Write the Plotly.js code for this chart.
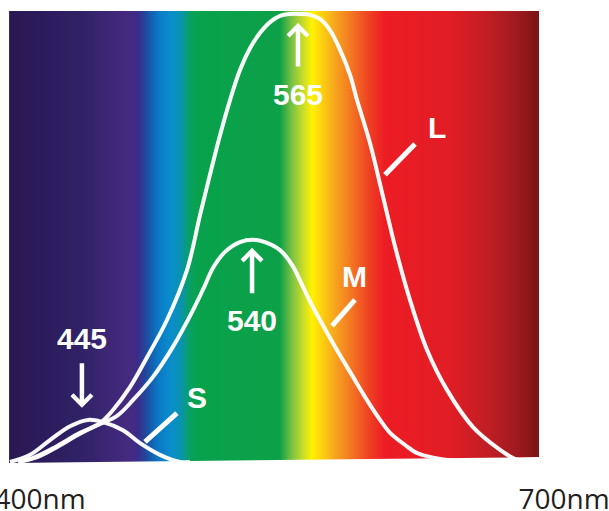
<!DOCTYPE html>
<html>
<head>
<meta charset="utf-8">
<script src="https://cdn.plot.ly/plotly-3.0.1.min.js"></script>
<style>
  html, body { margin: 0; padding: 0; background: #ffffff; }
  #chart { width: 609px; height: 511px; }
</style>
</head>
<body>
<div id="chart"></div>
<script>
// Tick labels
const tickValues = [400, 700];
const tickLabels = ["400nm", "700nm"];

// Spectrum colour stops (wavelength, colour)
const spectrumNm = [382.3, 400, 422.9, 443, 451.5, 456, 460.7, 467.6, 474.4, 480.2, 485.9, 490.5, 537.4, 544.3, 550.6, 555.7, 561.5, 568.9, 577.5, 587.8, 597.5, 634.7, 657.6, 674.8, 685.7];
const spectrumColors = ["#2a1850", "#2c1b5c", "#302266", "#3f2878", "#462a80", "#3b2c88", "#1f4a9e", "#0a78c4", "#0a8ccc", "#0a92b4", "#07a060", "#08a24c", "#0da048", "#7cc242", "#c8dc2a", "#fff200", "#fdd010", "#f7a51f", "#f47a22", "#ef4423", "#ed1c24", "#e11d25", "#bf1e24", "#9a1a1e", "#7a1414"];
const spectrumTop = 1.007;
const spectrumBottomLeft = -0.002;
const spectrumBottomRight = 0.011;

// S cone (peak labelled 445)
const sNm = [382.8, 394.3, 405.7, 417.2, 427.5, 436.1, 447.5, 457.3, 468.7, 480.2, 485.9];
const sVal = [0, 0.016, 0.049, 0.080, 0.094, 0.089, 0.071, 0.042, 0.016, 0.0, 0.0];

// M cone (peak labelled 540)
const mNm = [387.4, 397.1, 408.6, 422.9, 434.4, 444.1, 453.2, 464.7, 476.1, 487.6, 494.5, 499.0, 505.9, 514.5, 521.9, 528.8, 537.4, 544.3, 550.6, 555.7, 560.3, 570.0, 578.6, 587.2, 594.7, 600.4, 609.0, 615.8, 626.1, 634.7, 644.4];
const mVal = [0, 0.009, 0.031, 0.063, 0.085, 0.103, 0.138, 0.190, 0.257, 0.339, 0.395, 0.433, 0.469, 0.491, 0.496, 0.491, 0.473, 0.440, 0.391, 0.350, 0.317, 0.250, 0.194, 0.138, 0.094, 0.065, 0.038, 0.020, 0.009, 0.004, 0];

// L cone (peak labelled 565)
const lNm = [387.4, 397.1, 408.6, 422.9, 434.4, 441.8, 451.5, 461.3, 472.7, 484.2, 491.6, 497.3, 503.1, 508.8, 514.5, 520.3, 526.0, 531.7, 537.4, 543.1, 548.9, 554.6, 560.3, 566.0, 571.8, 577.5, 581.5, 588.9, 596.4, 603.8, 611.8, 621.6, 633.0, 647.9, 663.4, 670.8, 677.7];
const lVal = [0, 0.011, 0.033, 0.065, 0.087, 0.116, 0.167, 0.234, 0.317, 0.429, 0.551, 0.641, 0.730, 0.808, 0.875, 0.924, 0.958, 0.982, 0.996, 1.0, 1.0, 0.998, 0.989, 0.964, 0.920, 0.864, 0.808, 0.712, 0.592, 0.473, 0.362, 0.250, 0.161, 0.078, 0.027, 0.009, 0.0];

// Peak labels
const peakLabels = ["445", "540", "565"];
const coneLabels = ["S", "M", "L"];

const x0 = spectrumNm[0], x1 = spectrumNm[spectrumNm.length - 1];
const colorscale = spectrumNm.map((v, i) => [(v - x0) / (x1 - x0), spectrumColors[i]]);

const spectrum = {
  x: [x0, x1, x1, x0, x0],
  y: [spectrumTop, spectrumTop, spectrumBottomRight, spectrumBottomLeft, spectrumTop],
  mode: "lines",
  line: { width: 0 },
  fill: "toself",
  fillgradient: { type: "horizontal", colorscale: colorscale },
  hoverinfo: "skip",
  showlegend: false
};

function curve(x, y) {
  return {
    x: x, y: y, mode: "lines",
    line: { color: "rgba(255,255,255,0.97)", width: 4, shape: "spline", smoothing: 1 },
    hoverinfo: "skip", showlegend: false, cliponaxis: true
  };
}

const white = "#ffffff";
const labelFont = { family: "Liberation Sans, Arial, sans-serif", size: 30, color: white, weight: "bold" };

const annotations = [
  // peak numbers
  { x: 424.0, y: 0.275, text: "<b>" + peakLabels[0] + "</b>" },
  { x: 521.4, y: 0.315, text: "<b>" + peakLabels[1] + "</b>" },
  { x: 547.7, y: 0.821, text: "<b>" + peakLabels[2] + "</b>" },
  // cone letters
  { x: 489.9, y: 0.145, text: "<b>" + coneLabels[0] + "</b>" },
  { x: 579.8, y: 0.413, text: "<b>" + coneLabels[1] + "</b>" },
  { x: 627.3, y: 0.746, text: "<b>" + coneLabels[2] + "</b>" }
].map(a => Object.assign({ xref: "x", yref: "y", showarrow: false, font: labelFont, xanchor: "center", yanchor: "middle" }, a));

// arrows
[[424.0, 0.121, -46], [521.4, 0.478, 47], [547.7, 0.980, 45]].forEach(p => {
  annotations.push({
    x: p[0], y: p[1], xref: "x", yref: "y", text: "", showarrow: true,
    ax: 0, ay: p[2], arrowhead: 4, arrowsize: 0.85, arrowwidth: 4.5, arrowcolor: white, standoff: 0
  });
});

const shapes = [
  [478.4, 0.109, 460.1, 0.045],
  [580.3, 0.362, 567.2, 0.304],
  [614.7, 0.710, 597.5, 0.641]
].map(s => ({ type: "line", xref: "x", yref: "y", x0: s[0], y0: s[1], x1: s[2], y1: s[3], line: { color: white, width: 5 } }));

const layout = {
  width: 609, height: 511,
  margin: { l: 0, r: 0, t: 0, b: 39, pad: 0 },
  paper_bgcolor: "#ffffff", plot_bgcolor: "#ffffff",
  xaxis: {
    range: [377.1, 725.76], showgrid: false, zeroline: false, showline: false,
    tickvals: tickValues, ticktext: tickLabels, ticks: "",
    ticklabeloverflow: "allow", ticklabelstandoff: 8,
    tickfont: { family: "Open Sans, Liberation Sans, Arial, sans-serif", size: 28, color: "#231f20" },
    fixedrange: true
  },
  yaxis: { range: [-0.0223, 1.0313], visible: false, fixedrange: true },
  annotations: annotations,
  shapes: shapes,
  showlegend: false
};

Plotly.newPlot("chart", [spectrum, curve(sNm, sVal), curve(mNm, mVal), curve(lNm, lVal)], layout, { displayModeBar: false, staticPlot: true });
</script>
</body>
</html>
